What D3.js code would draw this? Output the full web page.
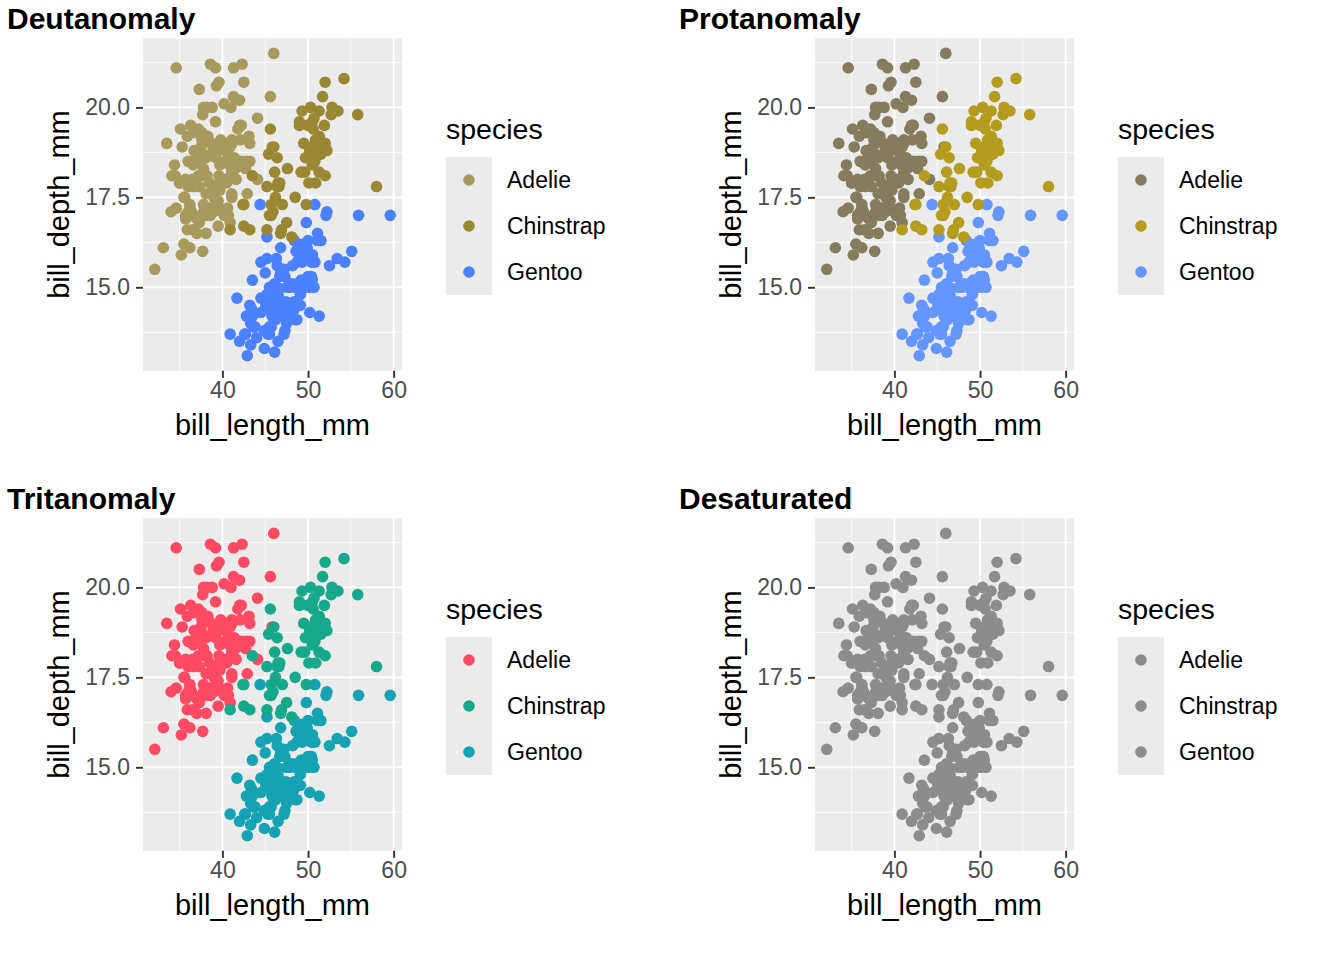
<!DOCTYPE html>
<html>
<head>
<meta charset="utf-8">
<script src="https://cdn.jsdelivr.net/npm/d3@7"></script>
<style>
  body { margin: 0; background: #fff; }
  text { font-family: "Liberation Sans", Arial, Helvetica, sans-serif; }
</style>
</head>
<body>
<svg id="chart" width="1344" height="960"></svg>
<script>
// penguins: bill length / depth per species (rows with NA dropped)
var adelieLength = [39.1,39.5,40.3,36.7,39.3,38.9,39.2,34.1,42.0,37.8,37.8,41.1,38.6,34.6,36.6,38.7,42.5,34.4,46.0,37.8,37.7,35.9,38.2,38.8,35.3,40.6,40.5,37.9,40.5,39.5,37.2,39.5,40.9,36.4,39.2,38.8,42.2,37.6,39.8,36.5,40.8,36.0,44.1,37.0,39.6,41.1,37.5,36.0,42.3,39.6,40.1,35.0,42.0,34.5,41.4,39.0,40.6,36.5,37.6,35.7,41.3,37.6,41.1,36.4,41.6,35.5,41.1,35.9,41.8,33.5,39.7,39.6,45.8,35.5,42.8,40.9,37.2,36.2,42.1,34.6,42.9,36.7,35.1,37.3,41.3,36.3,36.9,38.3,38.9,35.7,41.1,34.0,39.6,36.2,40.8,38.1,40.3,33.1,43.2,35.0,41.0,37.7,37.8,37.9,39.7,38.6,38.2,38.1,43.2,38.1,45.6,39.7,42.2,39.6,42.7,38.6,37.3,35.7,41.1,36.2,37.7,40.2,41.4,35.2,40.6,38.8,41.5,39.0,44.1,38.5,43.1,36.8,37.5,38.1,41.1,35.6,40.2,37.0,39.7,40.2,40.6,32.1,40.7,37.3,39.0,39.2,36.6,36.0,37.8,36.0,41.5];
var adelieDepth = [18.7,17.4,18.0,19.3,20.6,17.8,19.6,18.1,20.2,17.1,17.3,17.6,21.2,21.1,17.8,19.0,20.7,18.4,21.5,18.3,18.7,19.2,18.1,17.2,18.9,18.6,17.9,18.6,18.9,16.7,18.1,17.8,18.9,17.0,21.1,20.0,18.5,19.3,19.1,18.0,18.4,18.5,19.7,16.9,18.8,19.0,18.9,17.9,21.2,17.7,18.9,17.9,19.5,18.1,18.6,17.5,18.8,16.6,19.1,16.9,21.1,17.0,18.2,17.1,18.0,16.2,19.1,16.6,19.4,19.0,18.4,17.2,18.9,17.5,18.5,16.8,19.4,16.1,19.1,17.2,17.6,18.8,19.4,17.8,20.3,19.5,18.6,19.2,18.8,18.0,18.1,17.1,18.1,17.3,18.9,18.6,18.5,16.1,18.5,17.9,20.0,16.0,20.0,18.6,18.9,17.2,20.0,17.0,19.0,16.5,20.3,17.7,19.5,20.7,18.3,17.0,20.5,17.0,18.6,17.2,19.8,17.0,18.5,15.9,19.0,17.6,18.3,17.1,18.0,17.9,19.2,18.5,18.5,17.6,17.5,17.5,20.1,16.5,17.9,17.1,17.2,15.5,17.0,16.8,18.7,18.6,18.4,17.8,18.1,17.1,18.5];
var gentooLength = [46.1,50.0,48.7,50.0,47.6,46.5,45.4,46.7,43.3,46.8,40.9,49.0,45.5,48.4,45.8,49.3,42.0,49.2,46.2,48.7,50.2,45.1,46.5,46.3,42.9,46.1,44.5,47.8,48.2,50.0,47.3,42.8,45.1,59.6,49.1,48.4,42.6,44.4,44.0,48.7,42.7,49.6,45.3,49.6,50.5,43.6,45.5,50.5,44.9,45.2,46.6,48.5,45.1,50.1,46.5,45.0,43.8,45.5,43.2,50.4,45.3,46.2,45.7,54.3,45.8,49.8,46.2,49.5,43.5,50.7,47.7,46.4,48.2,46.5,46.4,48.6,47.5,51.1,45.2,45.2,49.1,52.5,47.4,50.0,44.9,50.8,43.4,51.3,47.5,52.1,47.5,52.2,45.5,49.5,44.5,50.8,49.4,46.9,48.4,51.1,48.5,55.9,47.2,49.1,47.3,46.8,41.7,53.4,43.3,48.1,50.5,49.8,43.5,51.5,46.2,55.1,44.5,48.8,47.2,46.8,50.4,45.2,49.9];
var gentooDepth = [13.2,16.3,14.1,15.2,14.5,13.5,14.6,15.3,13.4,15.4,13.7,16.1,13.7,14.6,14.6,15.7,13.5,15.2,14.5,15.1,14.3,14.5,14.5,15.8,13.1,15.1,14.3,15.0,14.3,15.3,15.3,14.2,14.5,17.0,14.8,16.3,13.7,17.3,13.6,15.7,13.7,16.0,13.7,15.0,15.9,13.9,13.9,15.9,13.3,15.8,14.2,14.1,14.4,15.0,14.4,15.4,13.9,15.0,14.5,15.3,13.8,14.9,13.9,15.7,14.2,16.8,14.4,16.2,14.2,15.0,15.0,15.6,15.6,14.8,15.0,16.0,14.2,16.3,13.8,16.4,14.5,15.6,14.6,15.9,13.8,17.3,14.4,14.2,14.0,17.0,15.0,17.1,14.5,16.1,14.7,15.7,15.8,14.6,14.4,16.5,15.0,17.0,15.5,15.0,13.8,16.1,14.7,15.8,14.0,15.1,15.2,15.9,15.2,16.3,14.1,16.0,15.7,16.2,13.7,14.3,15.7,14.8,16.1];
var chinstrapLength = [46.5,50.0,51.3,45.4,52.7,45.2,46.1,51.3,46.0,51.3,46.6,51.7,47.0,52.0,45.9,50.5,50.3,58.0,46.4,49.2,42.4,48.5,43.2,50.6,46.7,52.0,50.5,49.5,46.4,52.8,40.9,54.2,42.5,51.0,49.7,47.5,47.6,52.0,46.9,53.5,49.0,46.2,50.9,45.5,50.9,50.8,50.1,49.0,51.5,49.8,48.1,51.4,45.7,50.7,42.5,52.2,45.2,49.3,50.2,45.6,51.9,46.8,45.7,55.8,43.5,49.6,50.8,50.2];
var chinstrapDepth = [17.9,19.5,19.2,18.7,19.8,17.8,18.2,18.2,18.9,19.9,17.8,20.3,17.3,18.1,17.1,19.6,20.0,17.8,18.6,18.2,17.3,17.5,16.6,19.4,17.9,19.0,18.4,19.0,17.8,20.0,16.6,20.8,16.7,18.8,18.6,16.8,18.3,20.7,16.6,19.9,19.5,17.5,19.1,17.0,17.9,18.5,17.9,19.6,18.7,17.3,16.4,19.0,17.3,19.7,17.3,18.8,16.6,19.9,18.8,19.4,19.5,16.5,17.0,19.8,18.1,18.2,19.0,18.7];

var species = ["Adelie", "Chinstrap", "Gentoo"];
var panelTitles = ["Deutanomaly", "Protanomaly", "Tritanomaly", "Desaturated"];
var deutColors = ["#A89A5D", "#998733", "#4B80FF"];
var protColors = ["#857B5D", "#B39C1E", "#6596FF"];
var tritColors = ["#FF4A64", "#16A88B", "#15A3B4"];
var desatColors = ["#8C8C8C", "#8C8C8C", "#8C8C8C"];
var xTicks = [40, 50, 60];
var yTicks = [15, 17.5, 20];
var xMinor = [35, 45, 55];
var yMinor = [13.75, 16.25, 18.75, 21.25];

// rows in dataset order: Adelie, Gentoo, Chinstrap
var points = [];
adelieLength.forEach(function (v, i) { points.push({ x: v, y: adelieDepth[i], s: "Adelie" }); });
gentooLength.forEach(function (v, i) { points.push({ x: v, y: gentooDepth[i], s: "Gentoo" }); });
chinstrapLength.forEach(function (v, i) { points.push({ x: v, y: chinstrapDepth[i], s: "Chinstrap" }); });

var panel = { left: 143, right: 402, top: 38.3, bottom: 370.8 };
var x = d3.scaleLinear().domain([30.725, 60.975]).range([panel.left, panel.right]);
var y = d3.scaleLinear().domain([12.68, 21.92]).range([panel.bottom, panel.top]);

var svg = d3.select("#chart");
var palettes = [deutColors, protColors, tritColors, desatColors];

var drawPanel = function (g, title, colors) {
  var color = d3.scaleOrdinal().domain(species).range(colors);

  g.append("text")
    .attr("x", 7).attr("y", 28.5)
    .attr("font-size", 30).attr("font-weight", "bold")
    .attr("fill", "#000")
    .text(title);

  g.append("rect")
    .attr("x", panel.left).attr("y", panel.top)
    .attr("width", panel.right - panel.left).attr("height", panel.bottom - panel.top)
    .attr("fill", "#EBEBEB");

  // grid lines
  g.selectAll(".xminor").data(xMinor).enter().append("line")
    .attr("x1", function (d) { return x(d); }).attr("x2", function (d) { return x(d); })
    .attr("y1", panel.top).attr("y2", panel.bottom)
    .attr("stroke", "#fff").attr("stroke-width", 0.9);
  g.selectAll(".yminor").data(yMinor).enter().append("line")
    .attr("y1", function (d) { return y(d); }).attr("y2", function (d) { return y(d); })
    .attr("x1", panel.left).attr("x2", panel.right)
    .attr("stroke", "#fff").attr("stroke-width", 0.9);
  g.selectAll(".xmajor").data(xTicks).enter().append("line")
    .attr("x1", function (d) { return x(d); }).attr("x2", function (d) { return x(d); })
    .attr("y1", panel.top).attr("y2", panel.bottom)
    .attr("stroke", "#fff").attr("stroke-width", 1.9);
  g.selectAll(".ymajor").data(yTicks).enter().append("line")
    .attr("y1", function (d) { return y(d); }).attr("y2", function (d) { return y(d); })
    .attr("x1", panel.left).attr("x2", panel.right)
    .attr("stroke", "#fff").attr("stroke-width", 1.9);

  // points
  g.append("g").selectAll("circle").data(points).enter().append("circle")
    .attr("cx", function (d) { return x(d.x); })
    .attr("cy", function (d) { return y(d.y); })
    .attr("r", 5.8)
    .attr("fill", function (d) { return color(d.s); });

  // axes
  var xAxis = g.append("g")
    .attr("transform", "translate(0," + panel.bottom + ")")
    .call(d3.axisBottom(x).tickValues(xTicks).tickSize(7).tickSizeOuter(0).tickPadding(4));
  var yAxis = g.append("g")
    .attr("transform", "translate(" + panel.left + ",0)")
    .call(d3.axisLeft(y).tickValues(yTicks).tickFormat(d3.format(".1f")).tickSize(7).tickSizeOuter(0).tickPadding(6));
  [xAxis, yAxis].forEach(function (a) {
    a.select(".domain").remove();
    a.selectAll(".tick line").attr("stroke", "#333").attr("stroke-width", 1.9);
    a.selectAll(".tick text").attr("fill", "#4D4D4D").attr("font-size", 23)
      .attr("font-family", "'Liberation Sans', Arial, sans-serif");
  });

  g.append("text")
    .attr("x", (panel.left + panel.right) / 2).attr("y", 435)
    .attr("text-anchor", "middle").attr("font-size", 29)
    .text("bill_length_mm");
  g.append("text")
    .attr("transform", "translate(69," + (panel.top + panel.bottom) / 2 + ") rotate(-90)")
    .attr("text-anchor", "middle").attr("font-size", 29)
    .text("bill_depth_mm");

  // legend
  var legend = g.append("g");
  legend.append("text")
    .attr("x", 446).attr("y", 139)
    .attr("font-size", 28.5)
    .text("species");
  var key = legend.selectAll(".key").data(species).enter().append("g")
    .attr("transform", function (d, i) { return "translate(446," + (157 + i * 46) + ")"; });
  key.append("rect")
    .attr("width", 46).attr("height", 46)
    .attr("fill", "#EBEBEB");
  key.append("circle")
    .attr("cx", 23).attr("cy", 23).attr("r", 5.8)
    .attr("fill", function (d) { return color(d); });
  key.append("text")
    .attr("x", 61).attr("y", 31)
    .attr("font-size", 23)
    .text(function (d) { return d; });
};

panelTitles.forEach(function (t, i) {
  var g = svg.append("g")
    .attr("transform", "translate(" + (i % 2) * 672 + "," + Math.floor(i / 2) * 480 + ")");
  drawPanel(g, t, palettes[i]);
});
</script>
</body>
</html>
